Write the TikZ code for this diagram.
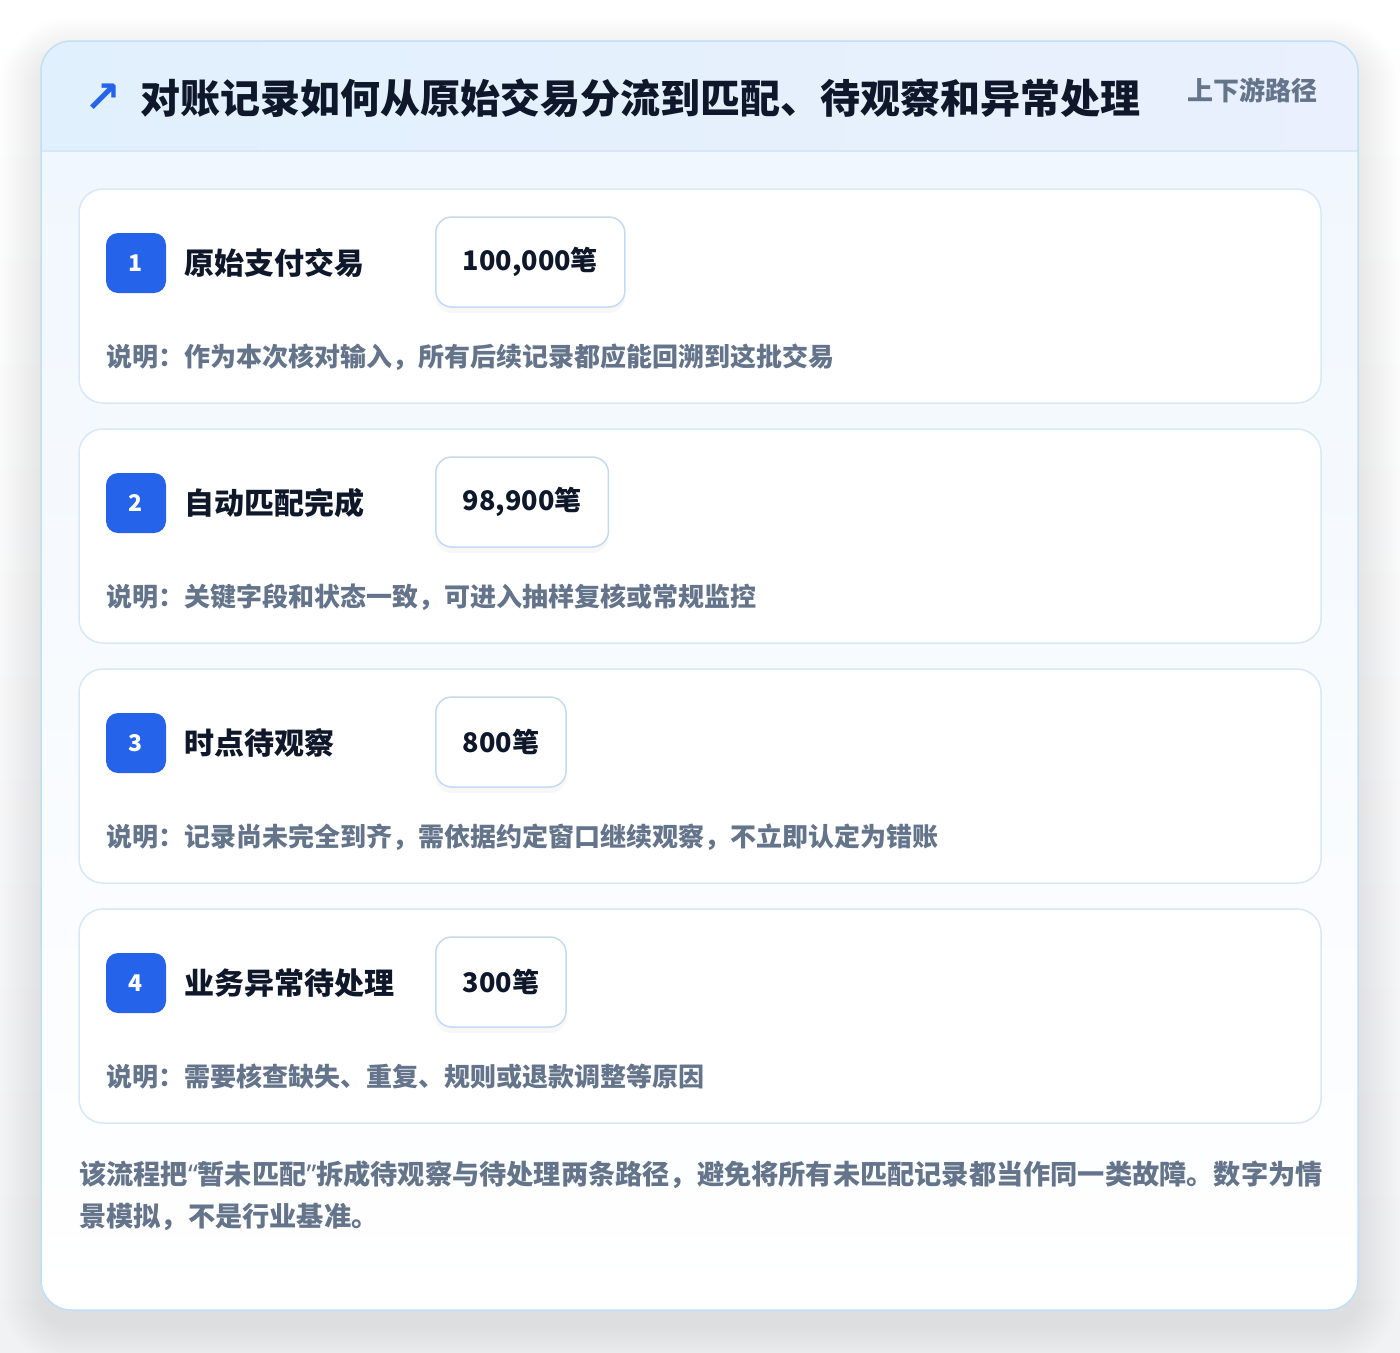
\documentclass[tikz,border=0pt]{standalone}
\usepackage{fontspec}
\setmainfont{Noto Sans CJK SC}
\newfontfamily\symfont{DejaVu Sans}
\newfontfamily\latinfont{Noto Sans}
\usetikzlibrary{positioning}

\definecolor{pageback}{HTML}{F1F2F4}
\definecolor{outerline}{HTML}{BFE0F5}
\definecolor{headleft}{HTML}{E1F0FD}
\definecolor{headright}{HTML}{EAF0FD}
\definecolor{headline}{HTML}{D5E7F8}
\definecolor{bodytop}{HTML}{F1F7FE}
\definecolor{cardline}{HTML}{D8E8F6}
\definecolor{countline}{HTML}{C4DAF2}
\definecolor{badgeblue}{HTML}{2563EB}
\definecolor{titleink}{HTML}{0F172A}
\definecolor{noteink}{HTML}{64748B}

\tikzset{
  card/.style={draw=cardline, line width=1.5pt, rounded corners=24pt, fill=white},
  badge/.style={fill=badgeblue, rounded corners=12pt, minimum size=60pt, inner sep=0pt,
    text=white, font=\fontsize{23}{23}\selectfont\bfseries},
  stagelabel/.style={text=titleink, inner sep=0pt, font=\fontsize{30}{30}\selectfont\bfseries},
  countbox/.style={draw=countline, line width=1.5pt, fill=white, rounded corners=16pt,
    minimum height=90pt, inner xsep=27pt, anchor=west, text=titleink,
    font=\fontsize{27}{27}\selectfont\bfseries,
    preaction={draw=none, fill=black, opacity=0.03, transform canvas={yshift=-6pt}}},
  memotext/.style={anchor=west, inner sep=0pt, text=noteink, font=\fontsize{26}{26}\selectfont\bfseries},
}

\begin{document}
\begin{tikzpicture}[x=1pt,y=-1pt]
\useasboundingbox (0,0) rectangle (1400,1352);
\shade[top color=white, bottom color=pageback] (0,0) rectangle (1400,1352);

% soft shadow of the panel
\foreach \s in {2,4,...,40}
  \fill[black, opacity=0.003, rounded corners=30+\s] (41-\s,41-\s+16) rectangle (1358+\s,1310+\s+16);

\begin{scope}
\clip[rounded corners=30pt] (41,41) rectangle (1358,1310);
\shade[top color=bodytop, bottom color=white] (41,151) rectangle (1358,1310);
\shade[left color=headleft, right color=headright] (41,41) rectangle (1358,151);
\draw[headline, line width=1.5pt] (41,151) -- (1358,151);
\end{scope}
\draw[outerline, line width=1.5pt, rounded corners=30pt] (41,41) rectangle (1358,1310);

\node[anchor=west, inner sep=0pt, text=badgeblue, font=\fontsize{44}{44}\selectfont\symfont\bfseries] (icon) at (84,98) {↗};
\node[anchor=west, inner sep=0pt, text=titleink, font=\fontsize{40}{42}\selectfont\bfseries] (title) at (140,98)
  {对账记录如何从原始交易分流到匹配、待观察和异常处理};
\node[anchor=east, inner sep=0pt, text=noteink, font=\fontsize{26}{26}\selectfont\bfseries] (pathtag) at (1318,90) {上下游路径};

\foreach \i/\stg/\amt/\memo in {
  1/原始支付交易/{100,000笔}/说明：作为本次核对输入，所有后续记录都应能回溯到这批交易,
  2/自动匹配完成/{98,900笔}/说明：关键字段和状态一致，可进入抽样复核或常规监控,
  3/时点待观察/800笔/说明：记录尚未完全到齐，需依据约定窗口继续观察，不立即认定为错账,
  4/业务异常待处理/300笔/说明：需要核查缺失、重复、规则或退款调整等原因}
{
  \pgfmathsetmacro\cardtop{189+(\i-1)*240}
  \draw[card] (79,\cardtop) rectangle (1321,\cardtop+214);
  \node[badge] (badge\i) at (136,\cardtop+74) {\i};
  \node[stagelabel, right=18pt of badge\i] (stage\i) {\stg};
  \node[countbox] (count\i) at (435,\cardtop+73) {\amt};
  \node[memotext] (memo\i) at (106,\cardtop+168) {\memo};
}

\node[anchor=west, inner sep=0pt, align=left, text=noteink, font=\fontsize{27.2}{42}\selectfont\bfseries] (footnote) at (79,1196)
  {该流程把{\latinfont“}暂未匹配{\latinfont”}拆成待观察与待处理两条路径，避免将所有未匹配记录都当作同一类故障。数字为情\\景模拟，不是行业基准。};
\end{tikzpicture}
\end{document}
